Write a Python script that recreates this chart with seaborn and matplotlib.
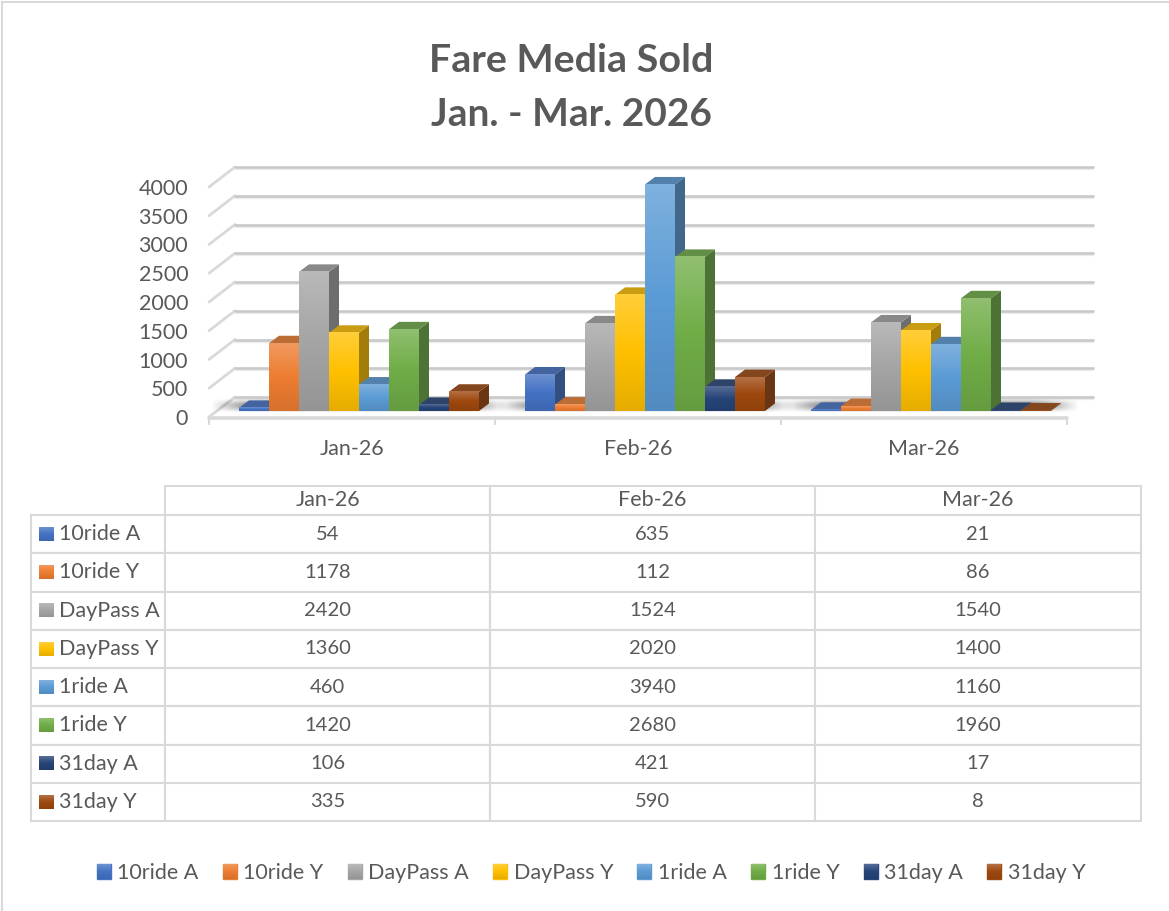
import numpy as np
import pandas as pd
import matplotlib
matplotlib.use('Agg')
import matplotlib.pyplot as plt
import seaborn as sns
from matplotlib.colors import LinearSegmentedColormap, to_rgb
from matplotlib.lines import Line2D
from matplotlib.patches import Polygon, Rectangle
from matplotlib.transforms import IdentityTransform

# Data
months = ['Jan-26', 'Feb-26', 'Mar-26']
series = ['10ride A', '10ride Y', 'DayPass A', 'DayPass Y', '1ride A', '1ride Y', '31day A', '31day Y']
ride10_a = [54, 635, 21]
ride10_y = [1178, 112, 86]
daypass_a = [2420, 1524, 1540]
daypass_y = [1360, 2020, 1400]
ride1_a = [460, 3940, 1160]
ride1_y = [1420, 2680, 1960]
day31_a = [106, 421, 17]
day31_y = [335, 590, 8]
all_values = [ride10_a, ride10_y, daypass_a, daypass_y, ride1_a, ride1_y, day31_a, day31_y]
colors = ['#4472C4', '#ED7D31', '#A5A5A5', '#FFC000', '#5B9BD5', '#70AD47', '#264478', '#9E480E']
y_ticks = [0, 500, 1000, 1500, 2000, 2500, 3000, 3500, 4000]

W, H = 1169, 911
TEXT = '#595959'
GRID = '#c9c9c9'
LINE = '#d9d9d9'

df = pd.DataFrame({
    'month': [m for _ in series for m in months],
    'series': [s for s in series for _ in months],
    'sold': [v for vals in all_values for v in vals],
})

sns.set_style('white')
plt.rcParams['font.family'] = ['Lato', 'DejaVu Sans']

fig = plt.figure(figsize=(W / 100, H / 100), dpi=100)


def px_axes(x0, y0, x1, y1, **kw):
    # axes from pixel corners, y counted from the top of the picture
    return fig.add_axes([x0 / W, 1 - y1 / H, (x1 - x0) / W, (y1 - y0) / H], **kw)


def ramp(color):
    # the light-top, dark-bottom fill Excel gives its 3D bars
    c = np.array(to_rgb(color))
    light = c + (1 - c) * 0.22
    return LinearSegmentedColormap.from_list('r', [light, c, c * 0.9], N=64)


grad = np.linspace(0, 1, 64).reshape(-1, 1)

# front plane of the chart box, carries the ticks
ax = px_axes(209, 187, 1067, 417)
ax.set_xlim(-0.5, 2.5)
ax.set_ylim(0, 4000)
sns.despine(ax=ax, left=True, bottom=True, right=True, top=True)
ax.patch.set_alpha(0)
ax.set_yticks(y_ticks)
ax.set_xticks([-0.5, 0.5, 1.5, 2.5], labels=[])
ax.set_xticks([0, 1, 2], labels=months, minor=True)
ax.tick_params(axis='y', length=0, pad=15, labelsize=15.5, labelcolor=TEXT)
ax.tick_params(axis='x', which='major', bottom=True, length=6, width=1.5, color=LINE, direction='out')
ax.tick_params(axis='x', which='minor', bottom=False, length=0, pad=16, labelsize=15.5, labelcolor=TEXT)

# walls and floor in pixels: depth of the box is 26 across, 20 up
back_dx, back_dy = 26, 20
to_px = ax.transData.transform
for v in y_ticks:
    x0, y0 = to_px((-0.5, v))
    x1, y1 = to_px((2.5, v))
    fig.add_artist(Line2D([x0, x0 + back_dx], [y0, y0 + back_dy], transform=IdentityTransform(),
                          color=LINE, lw=2, zorder=0.5))
    fig.add_artist(Line2D([x0 + back_dx, x1 + back_dx], [y0 + back_dy - 2, y1 + back_dy - 2],
                          transform=IdentityTransform(), color='#ececec', lw=1.6, zorder=0.5))
    fig.add_artist(Line2D([x0 + back_dx, x1 + back_dx], [y0 + back_dy, y1 + back_dy],
                          transform=IdentityTransform(), color=GRID, lw=1.9, zorder=0.5))
fig.add_artist(Line2D([to_px((-0.5, 0))[0], to_px((2.5, 0))[0]], [H - 417.5, H - 417.5],
                      transform=IdentityTransform(), color=LINE, lw=2.6, zorder=0.6))

# bars sit part way into the box
ax_bars = px_axes(216, 181, 1074, 411)
ax_bars.patch.set_alpha(0)
ax_bars.set_zorder(2)
sns.barplot(data=df, x='month', y='sold', hue='series', hue_order=series, order=months,
            palette=colors, width=0.839, gap=0, legend=False, linewidth=0, ax=ax_bars)
ax_bars.set_xlim(-0.5, 2.5)
ax_bars.set_ylim(0, 4000)
ax_bars.axis('off')

# soft shadow on the floor round each group of bars
shadow_rgba = np.zeros((32, 128, 4))
edge = np.clip(np.sin(np.linspace(0, np.pi, 128)) * 2.2, 0, 1)
depth = np.sin(np.linspace(0, np.pi, 32)).reshape(-1, 1) ** 1.5
shadow_rgba[..., 3] = 0.5 * depth * edge
for i in range(len(months)):
    ax_bars.imshow(shadow_rgba, extent=(i - 0.52, i + 0.52, -35, 210), aspect='auto', zorder=1, clip_on=False)

# draw left to right so each front face hides the side of the bar before it
bars = []
for container, color in zip(ax_bars.containers, colors):
    for bar in container:
        bars.append((bar.get_x(), bar, color))
bars.sort(key=lambda b: b[0])
dx, dy = 10, 7.5
for n, (_, bar, color) in enumerate(bars):
    z = 3 + n * 0.01
    left, w, h = bar.get_x(), bar.get_width(), bar.get_height()
    bar.set_zorder(z + 0.002)
    (x0, y0), (x1, y1) = ax_bars.transData.transform([(left, 0), (left + w, h)])
    c = np.array(to_rgb(color))
    side = Polygon([(x1, y0), (x1 + dx, y0 + dy), (x1 + dx, y1 + dy), (x1, y1)],
                   transform=IdentityTransform(), facecolor=c * 0.6 + 0.04, edgecolor='none', zorder=z, clip_on=False)
    top = Polygon([(x0, y1), (x0 + dx, y1 + dy), (x1 + dx, y1 + dy), (x1, y1)],
                  transform=IdentityTransform(), facecolor=c * 0.72 + 0.07, edgecolor='none', zorder=z + 0.001, clip_on=False)
    ax_bars.add_patch(side)
    ax_bars.add_patch(top)
    ax_bars.imshow(grad, extent=(left, left + w, 0, h), aspect='auto', cmap=ramp(color),
                   zorder=z + 0.003, clip_on=False)
ax_bars.set_xlim(-0.5, 2.5)
ax_bars.set_ylim(0, 4000)

fig.text(571 / W, 1 - 61 / H, 'Fare Media Sold', ha='center', va='center', fontsize=28.4, fontweight='bold', color=TEXT)
fig.text(571 / W, 1 - 115 / H, 'Jan. - Mar. 2026', ha='center', va='center', fontsize=28, fontweight='bold', color=TEXT)

# data table
tax = px_axes(31, 486, 1141, 821)
tax.axis('off')
cell_text = [[''] + months]
for s, vals in zip(series, all_values):
    cell_text.append([s] + [str(v) for v in vals])
table = tax.table(cellText=cell_text, bbox=[0, 0, 1, 1], cellLoc='center',
                  colWidths=[134, 325, 325, 326])
table.auto_set_font_size(False)
for (r, c), cell in table.get_celld().items():
    cell.set_height(29 if r == 0 else 38.25)
    cell.set_edgecolor(LINE)
    cell.set_linewidth(1.5)
    cell.get_text().set_color(TEXT)
    # Lato digits run wider than the original face
    cell.set_fontsize(15.5 if r == 0 or c == 0 else 14.5)
    if c == 0:
        cell.get_text().set_ha('left')
        cell.PAD = 0.21
        cell._loc = 'left'
table[0, 0].visible_edges = 'open'

# legend along the bottom
handles = [Rectangle((0, 0), 1, 1, color=col) for col in colors]
legend = fig.legend(handles, series, loc='center', bbox_to_anchor=(591 / W, 1 - 873 / H), ncol=8,
                    frameon=False, fontsize=15.5, labelcolor=TEXT, handlelength=0.65, handleheight=0.65,
                    handletextpad=0.3, columnspacing=1.13)

# overlay in picture pixels: frame lines and gradient swatches
ov = fig.add_axes([0, 0, 1, 1], zorder=10)
ov.set_xlim(0, W)
ov.set_ylim(H, 0)
ov.axis('off')
ov.patch.set_alpha(0)
ov.plot([2, 2], [2, H], color=LINE, lw=1.5)
ov.plot([2, W], [2, 2], color=LINE, lw=1.5)
row_tops = 515 + 38.25 * np.arange(len(series))
for top_y, col in zip(row_tops, colors):
    ov.imshow(grad, extent=(39, 54, top_y + 26, top_y + 12), aspect='auto', cmap=ramp(col))
fig.canvas.draw()
for handle, col in zip(legend.legend_handles, colors):
    bb = handle.get_window_extent()
    ov.imshow(grad, extent=(bb.x0, bb.x1, H - bb.y0, H - bb.y1), aspect='auto', cmap=ramp(col))
ov.set_xlim(0, W)
ov.set_ylim(H, 0)

fig.savefig('out.png', dpi=100)
